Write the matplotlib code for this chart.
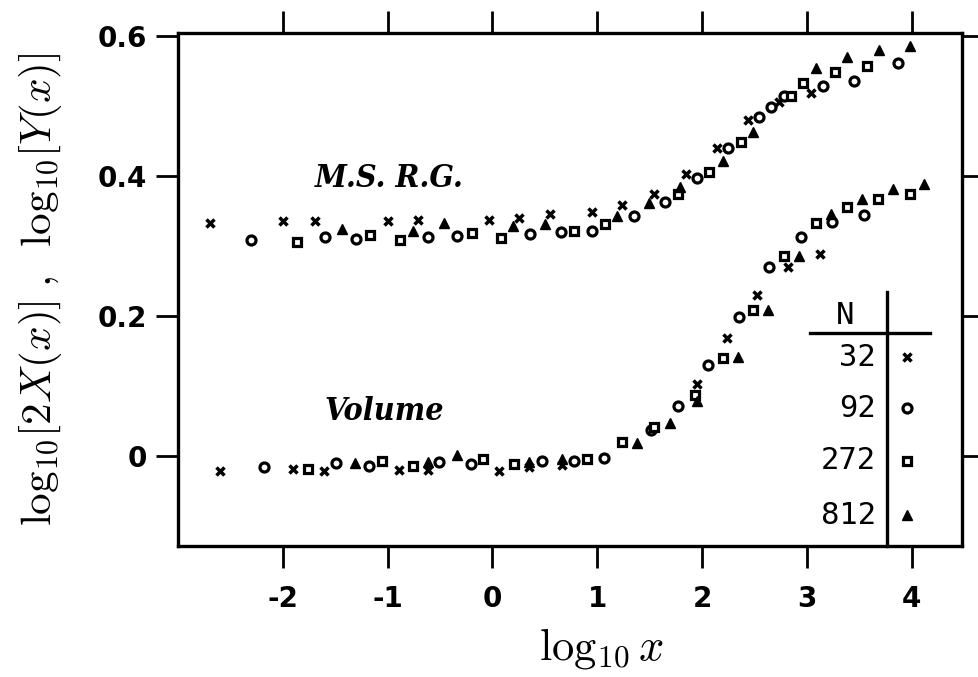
import matplotlib
matplotlib.use("Agg")
from matplotlib import pyplot as plt

plt.rcParams['mathtext.fontset'] = 'cm'

# upper curve (M.S. R.G.), one list pair per N
rg_x32 = [-2.69, -2.00, -1.695, -0.998, -0.712, -0.031, 0.255, 0.548, 0.946, 1.235, 1.540, 1.845, 2.138, 2.440, 2.733, 3.035]
rg_y32 = [0.333, 0.336, 0.335, 0.336, 0.337, 0.337, 0.340, 0.345, 0.348, 0.358, 0.375, 0.403, 0.440, 0.480, 0.506, 0.519]
rg_x92 = [-2.299, -1.599, -1.297, -0.616, -0.340, 0.357, 0.653, 0.953, 1.354, 1.650, 1.947, 2.249, 2.545, 2.656, 2.781, 3.150, 3.449, 3.865]
rg_y92 = [0.309, 0.313, 0.310, 0.313, 0.314, 0.317, 0.320, 0.321, 0.343, 0.363, 0.397, 0.440, 0.485, 0.499, 0.514, 0.528, 0.536, 0.562]
rg_x272 = [-1.869, -1.170, -0.884, -0.199, 0.077, 0.777, 1.073, 1.769, 2.065, 2.370, 2.847, 2.959, 3.267, 3.570]
rg_y272 = [0.306, 0.316, 0.309, 0.319, 0.311, 0.321, 0.331, 0.374, 0.406, 0.449, 0.514, 0.533, 0.548, 0.557]
rg_x812 = [-1.440, -0.762, -0.464, 0.198, 0.500, 1.192, 1.497, 1.788, 2.196, 2.488, 3.086, 3.379, 3.687, 3.983]
rg_y812 = [0.324, 0.322, 0.333, 0.328, 0.332, 0.343, 0.362, 0.385, 0.422, 0.463, 0.554, 0.570, 0.580, 0.586]

# lower curve (Volume)
vol_x32 = [-2.601, -1.902, -1.609, -0.890, -0.614, 0.061, 0.352, 0.662, 1.950, 2.234, 2.526, 2.822, 3.124]
vol_y32 = [-0.021, -0.019, -0.021, -0.020, -0.020, -0.021, -0.016, -0.013, 0.103, 0.168, 0.230, 0.270, 0.289]
vol_x92 = [-2.181, -1.488, -1.177, -0.509, -0.206, 0.476, 0.777, 1.068, 1.511, 1.769, 2.058, 2.356, 2.640, 2.943, 3.239, 3.544]
vol_y92 = [-0.016, -0.010, -0.014, -0.008, -0.011, -0.007, -0.007, -0.003, 0.037, 0.072, 0.130, 0.199, 0.270, 0.313, 0.334, 0.344]
vol_x272 = [-1.759, -1.049, -0.762, -0.092, 0.209, 0.901, 1.235, 1.540, 1.931, 2.201, 2.485, 2.785, 3.086, 3.379, 3.680, 3.983]
vol_y272 = [-0.019, -0.007, -0.014, -0.005, -0.011, -0.004, 0.020, 0.042, 0.087, 0.140, 0.208, 0.286, 0.333, 0.355, 0.367, 0.374]
vol_x812 = [-1.313, -0.614, -0.340, 0.352, 0.662, 1.378, 1.690, 1.950, 2.345, 2.631, 2.927, 3.226, 3.522, 3.818, 4.116]
vol_y812 = [-0.010, -0.009, 0.001, -0.009, -0.004, 0.018, 0.047, 0.079, 0.142, 0.209, 0.286, 0.346, 0.367, 0.381, 0.389]

sizes = ["32", "92", "272", "812"]
xticks = [-2, -1, 0, 1, 2, 3, 4]
yticks = [0, 0.2, 0.4, 0.6]
ytick_labels = ["0", "0.2", "0.4", "0.6"]

# marker style per N
styles = {
    "32": dict(marker="x", ms=5.5, mew=2.5, color="black"),
    "92": dict(marker="o", ms=6.5, mew=2.3, mfc="white", mec="black"),
    "272": dict(marker="s", ms=5.5, mew=2.3, mfc="white", mec="black"),
    "812": dict(marker="^", ms=7.5, mew=1, color="black"),
}

fig = plt.figure(figsize=(9.79, 6.77), dpi=100)
ax = fig.add_axes([178 / 979, 1 - 546 / 677, 784 / 979, 513 / 677])

curves = [
    (rg_x32, rg_y32, "32"), (rg_x92, rg_y92, "92"), (rg_x272, rg_y272, "272"), (rg_x812, rg_y812, "812"),
    (vol_x32, vol_y32, "32"), (vol_x92, vol_y92, "92"), (vol_x272, vol_y272, "272"), (vol_x812, vol_y812, "812"),
]
for xs, ys, n in curves:
    ax.plot(xs, ys, linestyle="none", **styles[n])

ax.set_xlim(-3.0, 4.48)
ax.set_ylim(-0.1286, 0.6043)

for s in ax.spines.values():
    s.set_linewidth(2.4)

ax.set_xticks(xticks)
ax.set_xticklabels([str(t) for t in xticks])
ax.set_yticks(yticks)
ax.set_yticklabels(ytick_labels)
ax.tick_params(direction="out", length=16, width=2, top=True, right=True, labelsize=20)
ax.tick_params(axis="x", pad=12)
ax.tick_params(axis="y", pad=6)
for lab in ax.get_xticklabels() + ax.get_yticklabels():
    lab.set_fontweight("bold")

ax.set_xlabel(r"$\mathrm{log}_{10}\,x$", fontsize=32)
ax.xaxis.set_label_coords(0.54, -0.155)
ax.set_ylabel(r"$\mathrm{log}_{10}[2X(x)]\;,\;\;\mathrm{log}_{10}[Y(x)]$", fontsize=31)
ax.yaxis.set_label_coords(-0.145, 0.5)

# curve labels
ax.text(-0.98, 0.397, "M.S. R.G.", fontsize=23, style="italic", fontweight="bold",
        family="DejaVu Serif", fontstretch="condensed", ha="center", va="center")
ax.text(-1.03, 0.063, "Volume", fontsize=23, style="italic", fontweight="bold",
        family="DejaVu Serif", fontstretch="condensed", ha="center", va="center")

# table-style key in the lower right
T = ax.transAxes
ax.plot([0.806, 0.959], [0.415, 0.415], color="black", lw=2.4, transform=T, clip_on=False)
ax.plot([0.904, 0.904], [0.0, 0.495], color="black", lw=2.4, transform=T, clip_on=False)
ax.text(0.851, 0.450, "N", transform=T, fontsize=22, family="DejaVu Sans Mono",
        ha="center", va="center")
key_y = [0.368, 0.269, 0.166, 0.060]
for n, yy in zip(sizes, key_y):
    ax.text(0.890, yy, n, transform=T, fontsize=22, family="DejaVu Sans Mono",
            ha="right", va="center")
    ax.plot([0.930], [yy], transform=T, linestyle="none", clip_on=False, **styles[n])

fig.savefig("out.png", dpi=100)
